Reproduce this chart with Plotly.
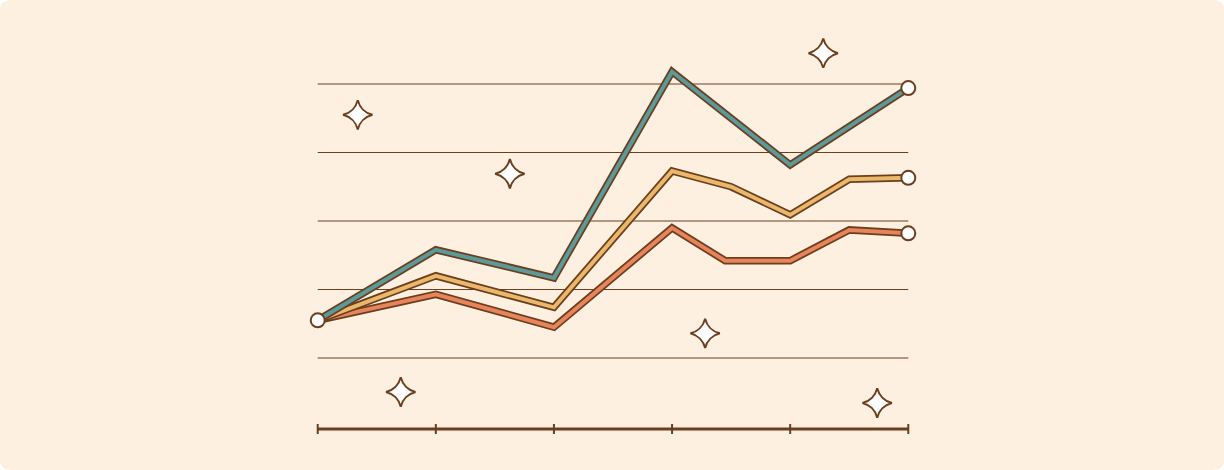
import plotly.graph_objects as go

# ---- data ----
teal_x = [0, 1, 2, 3, 4, 5]
teal_y = [15.5, 25.8, 21.7, 51.8, 38.2, 49.4]
gold_x = [0, 1, 2, 3, 3.5, 4, 4.5, 5]
gold_y = [15.5, 22.0, 17.4, 37.3, 35.0, 30.9, 36.1, 36.3]
coral_x = [0, 1, 2, 3, 3.45, 4, 4.5, 5]
coral_y = [15.5, 19.3, 14.5, 29.0, 24.2, 24.2, 28.7, 28.2]
grid_vals = [10, 20, 30, 40, 50]
tick_vals = [0, 1, 2, 3, 4, 5]
sparkle_x = [0.339, 1.627, 4.28, 3.28, 0.703, 4.737]
sparkle_y = [45.5, 36.9, 54.5, 13.6, 5.04, 3.43]

BG = "#fdf0e0"
BROWN = "#6b3e1e"
TEAL = "#5b9a98"
GOLD = "#e9b86a"
CORAL = "#e8845c"

W, H = 1224, 470
XPX = 118.0  # px per x unit
PAD = 0.15
ML = 318 - PAD * XPX
MR = 1224 - 908 - PAD * XPX
MT, MB = 30, 30
PW, PH = W - ML - MR, H - MT - MB

fig = go.Figure()

for xs, ys, col in [(coral_x, coral_y, CORAL), (gold_x, gold_y, GOLD), (teal_x, teal_y, TEAL)]:
    fig.add_trace(go.Scatter(x=xs, y=ys, mode="lines", line=dict(color=BROWN, width=7.5),
                             hoverinfo="skip", showlegend=False))
    fig.add_trace(go.Scatter(x=xs, y=ys, mode="lines", line=dict(color=col, width=4),
                             showlegend=False))

# end / start markers
end_x = [teal_x[0], teal_x[-1], gold_x[-1], coral_x[-1]]
end_y = [teal_y[0], teal_y[-1], gold_y[-1], coral_y[-1]]
fig.add_trace(go.Scatter(x=end_x, y=end_y, mode="markers",
                         marker=dict(size=14, color="white", line=dict(color=BROWN, width=2)),
                         showlegend=False, hoverinfo="skip", cliponaxis=False))

# sparkles
fig.add_trace(go.Scatter(x=sparkle_x, y=sparkle_y, mode="markers",
                         marker=dict(symbol="star-diamond", size=21, color="white",
                                     line=dict(color=BROWN, width=2)),
                         showlegend=False, hoverinfo="skip", cliponaxis=False))

# rounded card background
r = 12
x0, x1 = -ML / PW, (W - ML) / PW
y0, y1 = -MB / PH, (H - MB) / PH
rx, ry = r / PW, r / PH
path = (f"M {x0+rx} {y0} L {x1-rx} {y0} Q {x1} {y0} {x1} {y0+ry} "
        f"L {x1} {y1-ry} Q {x1} {y1} {x1-rx} {y1} L {x0+rx} {y1} "
        f"Q {x0} {y1} {x0} {y1-ry} L {x0} {y0+ry} Q {x0} {y0} {x0+rx} {y0} Z")
shapes = [dict(type="path", xref="paper", yref="paper", path=path,
               fillcolor=BG, line=dict(width=0), layer="below")]

# horizontal gridlines
for g in grid_vals:
    shapes.append(dict(type="line", xref="x", yref="y", x0=tick_vals[0], x1=tick_vals[-1],
                       y0=g, y1=g, line=dict(color=BROWN, width=1), layer="below"))

ypx = 6.85
y_base = 10 - (429 - 358) / ypx  # axis baseline value
# bottom axis line and ticks
shapes.append(dict(type="line", xref="x", yref="y", x0=tick_vals[0], x1=tick_vals[-1],
                   y0=y_base, y1=y_base, line=dict(color=BROWN, width=3), layer="above"))
for t in tick_vals:
    shapes.append(dict(type="line", xref="x", yref="y", ysizemode="pixel", yanchor=y_base,
                       x0=t, x1=t, y0=-5, y1=5, line=dict(color=BROWN, width=2), layer="above"))

y_lo = 10 - (H - MB - 358) / ypx
y_hi = 10 + (358 - MT) / ypx

fig.update_layout(
    width=W, height=H,
    margin=dict(l=ML, r=MR, t=MT, b=MB),
    paper_bgcolor="white",
    plot_bgcolor="rgba(0,0,0,0)",
    shapes=shapes,
    xaxis=dict(range=[-PAD, 5 + PAD], showgrid=False, zeroline=False, showticklabels=False,
               showline=False, ticks=""),
    yaxis=dict(range=[y_lo, y_hi], showgrid=False, zeroline=False, showticklabels=False,
               showline=False, ticks=""),
)

fig.write_html("out.html", config={"displayModeBar": False},
               post_script="document.body.style.margin='0';document.body.style.overflow='hidden';")
